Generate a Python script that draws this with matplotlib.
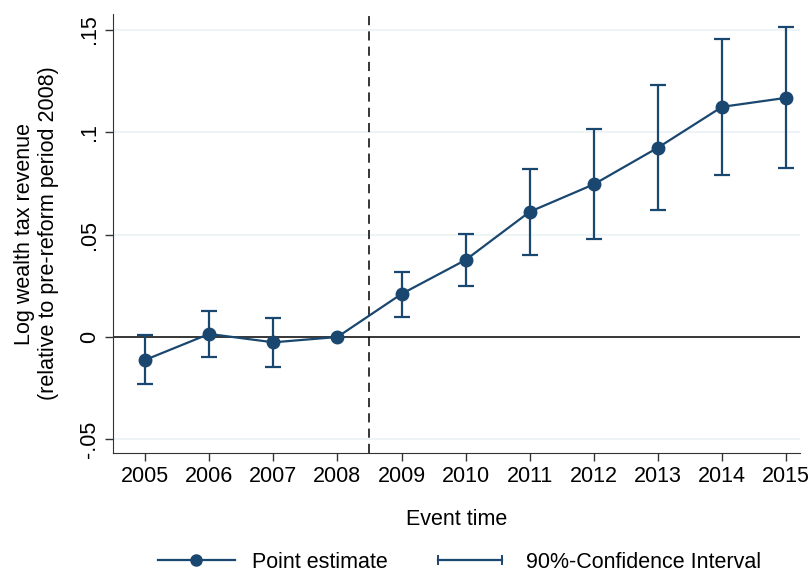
import matplotlib.pyplot as plt
from matplotlib.lines import Line2D
from matplotlib.legend_handler import HandlerLine2D
import numpy as np

plt.rcParams['font.family'] = ['Liberation Sans', 'DejaVu Sans']

years = [2005, 2006, 2007, 2008, 2009, 2010, 2011, 2012, 2013, 2014, 2015]
estimate = [-0.0112, 0.0015, -0.0026, 0.0, 0.0210, 0.0376, 0.0611, 0.0745, 0.0924, 0.1123, 0.1167]
ci_upper = [0.0010, 0.0128, 0.0094, 0.0, 0.0317, 0.0502, 0.0821, 0.1013, 0.1229, 0.1455, 0.1511]
ci_lower = [-0.0230, -0.0098, -0.0148, 0.0, 0.0098, 0.0249, 0.0400, 0.0478, 0.0620, 0.0790, 0.0826]
yticks = [-0.05, 0, 0.05, 0.1, 0.15]
ytick_labels = ['-.05', '0', '.05', '.1', '.15']

navy = '#1a476f'
fs = 15.5

fig = plt.figure(figsize=(8.1, 5.74), dpi=100)
ax = fig.add_axes([0.1395, 0.2108, 0.8485, 0.7648])

for y in yticks:
    if y != 0:
        ax.axhline(y, color='#eaf2f3', lw=1.2, zorder=0)
ax.axhline(0, color='black', lw=1.1, zorder=1)
ax.axvline(2008.5, color='black', lw=1.1, ls=(0, (6, 4)), zorder=1)

est = np.array(estimate)
lo = est - np.array(ci_lower)
hi = np.array(ci_upper) - est
mask = np.array(years) != 2008
ax.errorbar(np.array(years)[mask], est[mask], yerr=[lo[mask], hi[mask]], fmt='none',
            ecolor=navy, elinewidth=1.6, capsize=6, capthick=1.6, zorder=2)
ax.plot(years, estimate, color=navy, lw=1.6, marker='o', ms=9, zorder=3)

ax.set_xlim(2004.5, 2015.22)
ax.set_ylim(-0.0566, 0.1576)
ax.set_xticks(years)
ax.set_yticks(yticks)
ax.set_yticklabels(ytick_labels, rotation=90, va='center')
ax.tick_params(axis='both', labelsize=fs, length=6, width=1, color='#333333')
ax.spines['top'].set_visible(False)
ax.spines['right'].set_visible(False)
ax.spines['left'].set_color('#333333')
ax.spines['bottom'].set_color('#333333')

ax.set_xlabel('Event time', fontsize=fs, labelpad=16)
ax.set_ylabel('Log wealth tax revenue\n(relative to pre-reform period 2008)', fontsize=fs, labelpad=14)

h1 = Line2D([], [], color=navy, lw=1.6, marker='o', ms=8)
h2 = Line2D([], [], color=navy, lw=1.6, marker='|', ms=7, mew=1.4)
fig.legend([h1, h2], ['Point estimate', '90%-Confidence Interval'],
           handler_map={h1: HandlerLine2D(numpoints=1), h2: HandlerLine2D(numpoints=2)},
           loc='center', bbox_to_anchor=(0.567, 0.02), ncol=2, frameon=False,
           fontsize=fs, handlelength=3.6, handletextpad=0.8, columnspacing=2.0,
           borderaxespad=0, borderpad=0.1)

fig.savefig('out.png', dpi=100)
